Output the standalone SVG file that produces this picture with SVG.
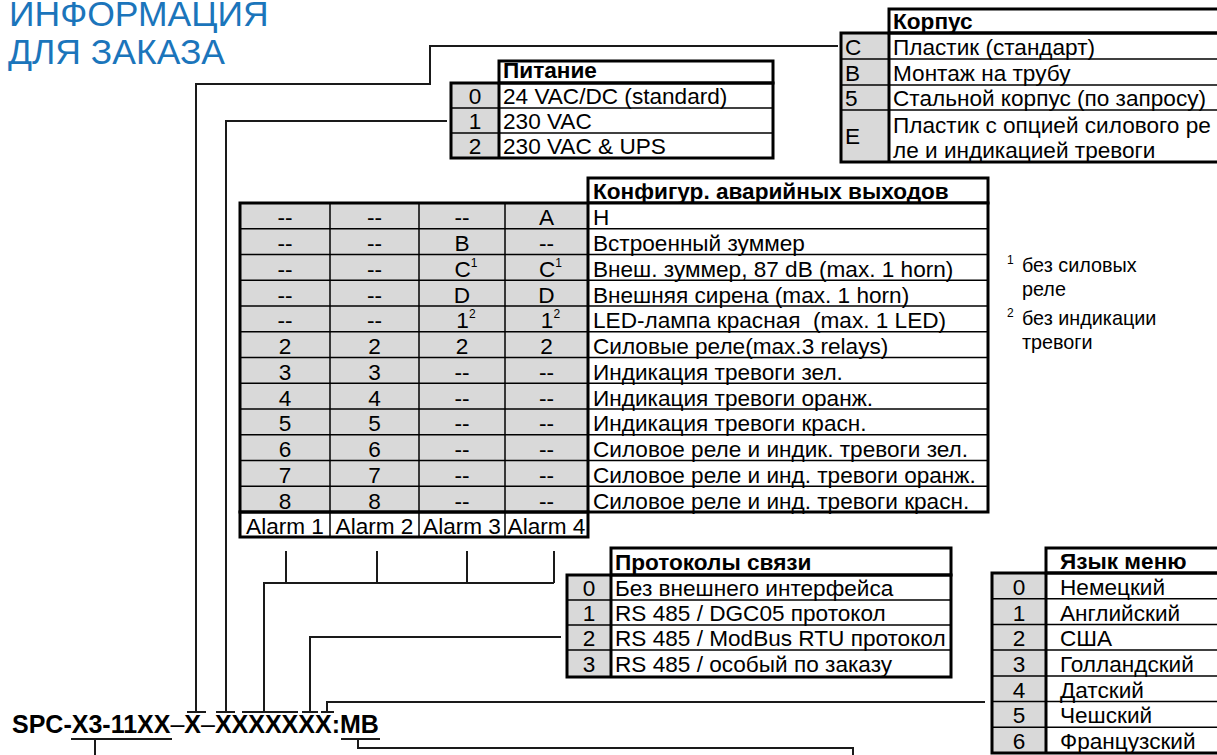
<svg xmlns="http://www.w3.org/2000/svg" width="1217" height="755" viewBox="0 0 1217 755">
<style>
text{font-family:"Liberation Sans",Arial,"Noto Sans",sans-serif;font-size:22.6px;fill:#000}
.b{font-weight:bold}
.c{text-anchor:middle}
.g{fill:#d9d9d9}
.w{fill:#fff}
.tk{fill:none;stroke:#000;stroke-width:3}
.tn{stroke:#000;stroke-width:1.5}
.cn{fill:none;stroke:#1a1a1a;stroke-width:2}
.ti{font-size:35.5px;fill:#1b75bb}
.fn{font-size:19.8px}
.sup{font-size:12px}
</style>
<rect width="1217" height="755" fill="#fff"/>
<g id="title">
<text class="ti" x="9" y="26">ИНФОРМАЦИЯ</text>
<text class="ti" x="8" y="64">ДЛЯ ЗАКАЗА</text>
</g>
<g id="connectors">
<polyline class="cn" points="196,712 196,84 430,84 430,46 838,46"/>
<polyline class="cn" points="226,712 226,121 447,121"/>
<polyline class="cn" points="264,712 264,583 554,583"/>
<line class="cn" x1="286" y1="551" x2="286" y2="583"/>
<line class="cn" x1="377" y1="551" x2="377" y2="583"/>
<line class="cn" x1="467" y1="551" x2="467" y2="583"/>
<line class="cn" x1="554" y1="551" x2="554" y2="583"/>
<polyline class="cn" points="310,712 310,637 561,637"/>
<polyline class="cn" points="327,712 327,702 985,702"/>
<line class="cn" x1="187" y1="712" x2="206" y2="712"/>
<line class="cn" x1="216" y1="712" x2="235" y2="712"/>
<line class="cn" x1="242" y1="712" x2="298" y2="712"/>
<line class="cn" x1="302" y1="712" x2="318" y2="712"/>
<line class="cn" x1="321" y1="712" x2="334" y2="712"/>
<line class="cn" x1="71" y1="739" x2="172" y2="739"/>
<line class="cn" x1="341" y1="739" x2="380" y2="739"/>
<polyline class="cn" points="95,739 95,755"/>
<polyline class="cn" points="358,739 358,748 853,748 853,755"/>
</g>
<g id="code">
<text class="b" x="12" y="733" style="font-size:25px">SPC-X3-11XX<tspan style="font-weight:normal">–</tspan>X<tspan style="font-weight:normal">–</tspan>XXXXXXX:MB</text>
</g>
<g id="korpus">
<rect class="g" x="841" y="33" width="48" height="129"/>
<rect class="w" x="889" y="33" width="336" height="129"/>
<rect class="w tk" x="889" y="9" width="336" height="24"/>
<line class="tn" x1="841" y1="59" x2="1225" y2="59"/>
<line class="tn" x1="841" y1="85" x2="1225" y2="85"/>
<line class="tn" x1="841" y1="110" x2="1225" y2="110"/>
<rect class="tk" x="841" y="33" width="384" height="129"/>
<line class="tk" x1="889" y1="33" x2="889" y2="162"/>
<text class="b" x="893" y="29">Корпус</text>
<text x="845" y="55">C</text><text x="893" y="55">Пластик (стандарт)</text>
<text x="845" y="81">B</text><text x="893" y="81">Монтаж на трубу</text>
<text x="845" y="106">5</text><text x="893" y="106">Стальной корпус (по запросу)</text>
<text x="845" y="144">E</text><text x="893" y="133">Пластик с опцией силового ре</text>
<text x="893" y="158">ле и индикацией тревоги</text>
</g>
<g id="pitanie">
<rect class="g" x="451" y="83" width="48" height="75"/>
<rect class="w" x="499" y="83" width="274" height="75"/>
<rect class="w tk" x="499" y="61" width="274" height="22"/>
<line class="tn" x1="451" y1="108" x2="773" y2="108"/>
<line class="tn" x1="451" y1="133" x2="773" y2="133"/>
<rect class="tk" x="451" y="83" width="322" height="75"/>
<line class="tk" x1="499" y1="83" x2="499" y2="158"/>
<text class="b" x="503" y="78">Питание</text>
<text class="c" x="475" y="104">0</text><text x="503" y="104">24 VAC/DC (standard)</text>
<text class="c" x="475" y="129">1</text><text x="503" y="129">230 VAC</text>
<text class="c" x="475" y="154">2</text><text x="503" y="154">230 VAC &amp; UPS</text>
</g>
<g id="alarm">
<rect class="w tk" x="588" y="178" width="400" height="25"/>
<rect class="g" x="240" y="203" width="348" height="309"/>
<rect class="w" x="588" y="203" width="400" height="309"/>
<rect class="w" x="240" y="512" width="348" height="25"/>
<g class="tn">
<line x1="240" y1="228.75" x2="988" y2="228.75"/>
<line x1="240" y1="254.5" x2="988" y2="254.5"/>
<line x1="240" y1="280.25" x2="988" y2="280.25"/>
<line x1="240" y1="306" x2="988" y2="306"/>
<line x1="240" y1="331.75" x2="988" y2="331.75"/>
<line x1="240" y1="357.5" x2="988" y2="357.5"/>
<line x1="240" y1="383.25" x2="988" y2="383.25"/>
<line x1="240" y1="409" x2="988" y2="409"/>
<line x1="240" y1="434.75" x2="988" y2="434.75"/>
<line x1="240" y1="460.5" x2="988" y2="460.5"/>
<line x1="240" y1="486.25" x2="988" y2="486.25"/>
<line x1="330" y1="203" x2="330" y2="537"/>
<line x1="419" y1="203" x2="419" y2="537"/>
<line x1="505" y1="203" x2="505" y2="537"/>
</g>
<rect class="tk" x="240" y="203" width="748" height="309"/>
<rect class="tk" x="240" y="512" width="348" height="25"/>
<line class="tk" x1="588" y1="203" x2="588" y2="512"/>
<text class="b" x="593" y="199">Конфигур. аварийных выходов</text>
<g class="c">
<text x="285" y="225.25">--</text><text x="374.5" y="225.25">--</text><text x="462" y="225.25">--</text><text x="546.5" y="225.25">A</text>
<text x="285" y="251">--</text><text x="374.5" y="251">--</text><text x="462" y="251">B</text><text x="546.5" y="251">--</text>
<text x="285" y="276.75">--</text><text x="374.5" y="276.75">--</text><text x="466" y="276.75">C<tspan class="sup" dy="-10">1</tspan></text><text x="550.5" y="276.75">C<tspan class="sup" dy="-10">1</tspan></text>
<text x="285" y="302.5">--</text><text x="374.5" y="302.5">--</text><text x="462" y="302.5">D</text><text x="546.5" y="302.5">D</text>
<text x="285" y="328.25">--</text><text x="374.5" y="328.25">--</text><text x="466" y="328.25">1<tspan class="sup" dy="-10">2</tspan></text><text x="550.5" y="328.25">1<tspan class="sup" dy="-10">2</tspan></text>
<text x="285" y="354">2</text><text x="374.5" y="354">2</text><text x="462" y="354">2</text><text x="546.5" y="354">2</text>
<text x="285" y="379.75">3</text><text x="374.5" y="379.75">3</text><text x="462" y="379.75">--</text><text x="546.5" y="379.75">--</text>
<text x="285" y="405.5">4</text><text x="374.5" y="405.5">4</text><text x="462" y="405.5">--</text><text x="546.5" y="405.5">--</text>
<text x="285" y="431.25">5</text><text x="374.5" y="431.25">5</text><text x="462" y="431.25">--</text><text x="546.5" y="431.25">--</text>
<text x="285" y="457">6</text><text x="374.5" y="457">6</text><text x="462" y="457">--</text><text x="546.5" y="457">--</text>
<text x="285" y="482.75">7</text><text x="374.5" y="482.75">7</text><text x="462" y="482.75">--</text><text x="546.5" y="482.75">--</text>
<text x="285" y="508.5">8</text><text x="374.5" y="508.5">8</text><text x="462" y="508.5">--</text><text x="546.5" y="508.5">--</text>
<text x="285" y="533.5">Alarm 1</text><text x="374.5" y="533.5">Alarm 2</text><text x="462" y="533.5">Alarm 3</text><text x="546.5" y="533.5">Alarm 4</text>
</g>
<text x="593" y="225.25">Н</text>
<text x="593" y="251">Встроенный зуммер</text>
<text x="593" y="276.75">Внеш. зуммер, 87 dB (max. 1 horn)</text>
<text x="593" y="302.5">Внешняя сирена (max. 1 horn)</text>
<text x="593" y="328.25" xml:space="preserve">LED-лампа красная  (max. 1 LED)</text>
<text x="593" y="354">Силовые реле(max.3 relays)</text>
<text x="593" y="379.75">Индикация тревоги зел.</text>
<text x="593" y="405.5">Индикация тревоги оранж.</text>
<text x="593" y="431.25">Индикация тревоги красн.</text>
<text x="593" y="457">Силовое реле и индик. тревоги зел.</text>
<text x="593" y="482.75">Силовое реле и инд. тревоги оранж.</text>
<text x="593" y="508.5">Силовое реле и инд. тревоги красн.</text>
</g>
<g id="footnotes">
<text class="sup" x="1007" y="264">1</text>
<text class="fn" x="1022" y="272">без силовых</text>
<text class="fn" x="1022" y="296">реле</text>
<text class="sup" x="1007" y="317">2</text>
<text class="fn" x="1022" y="325">без индикации</text>
<text class="fn" x="1022" y="349">тревоги</text>
</g>
<g id="protocols">
<rect class="g" x="567" y="575" width="44" height="102"/>
<rect class="w" x="611" y="575" width="340" height="102"/>
<rect class="w tk" x="611" y="548" width="340" height="27"/>
<line class="tn" x1="567" y1="600" x2="951" y2="600"/>
<line class="tn" x1="567" y1="625" x2="951" y2="625"/>
<line class="tn" x1="567" y1="650" x2="951" y2="650"/>
<rect class="tk" x="567" y="575" width="384" height="102"/>
<line class="tk" x1="611" y1="575" x2="611" y2="677"/>
<text class="b" x="615" y="570">Протоколы связи</text>
<text class="c" x="589" y="596">0</text><text x="615" y="596">Без внешнего интерфейса</text>
<text class="c" x="589" y="621">1</text><text x="615" y="621">RS 485 / DGC05 протокол</text>
<text class="c" x="589" y="646">2</text><text x="615" y="646">RS 485 / ModBus RTU протокол</text>
<text class="c" x="589" y="672">3</text><text x="615" y="672">RS 485 / особый по заказу</text>
</g>
<g id="language">
<rect class="g" x="992" y="573" width="54" height="180"/>
<rect class="w" x="1046" y="573" width="180" height="180"/>
<rect class="w tk" x="1046" y="548" width="180" height="25"/>
<g class="tn">
<line x1="992" y1="598.7" x2="1226" y2="598.7"/>
<line x1="992" y1="624.4" x2="1226" y2="624.4"/>
<line x1="992" y1="650.1" x2="1226" y2="650.1"/>
<line x1="992" y1="675.9" x2="1226" y2="675.9"/>
<line x1="992" y1="701.6" x2="1226" y2="701.6"/>
<line x1="992" y1="727.3" x2="1226" y2="727.3"/>
</g>
<rect class="tk" x="992" y="573" width="234" height="180"/>
<line class="tk" x1="1046" y1="573" x2="1046" y2="753"/>
<text class="b" x="1060" y="569">Язык меню</text>
<text class="c" x="1019" y="595">0</text><text x="1060" y="595">Немецкий</text>
<text class="c" x="1019" y="620.5">1</text><text x="1060" y="620.5">Английский</text>
<text class="c" x="1019" y="646.2">2</text><text x="1060" y="646.2">США</text>
<text class="c" x="1019" y="672">3</text><text x="1060" y="672">Голландский</text>
<text class="c" x="1019" y="697.7">4</text><text x="1060" y="697.7">Датский</text>
<text class="c" x="1019" y="723.4">5</text><text x="1060" y="723.4">Чешский</text>
<text class="c" x="1019" y="749">6</text><text x="1060" y="749">Французский</text>
</g>
</svg>
